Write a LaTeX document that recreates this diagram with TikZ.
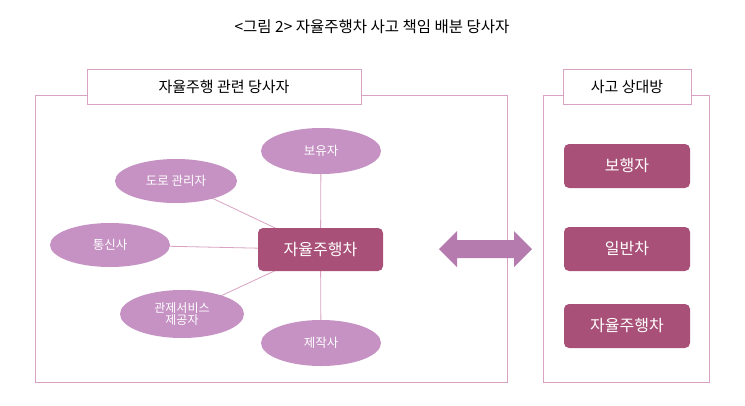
\documentclass[tikz,border=0pt]{standalone}
\usepackage{fontspec}
\setmainfont{Noto Sans CJK KR}
\usetikzlibrary{shapes.geometric}
\definecolor{pk}{HTML}{D8A2C2}
\definecolor{dark}{HTML}{A85077}
\definecolor{ell}{HTML}{C592C3}
\definecolor{arr}{HTML}{B57BAE}
\begin{document}
\begin{tikzpicture}[x=1pt,y=-1pt,
  panel/.style={draw=pk,line width=1pt},
  ptitle/.style={draw=pk,line width=1pt,fill=white,minimum height=35pt,font=\fontsize{15}{17}\selectfont,inner sep=0pt},
  dbox/.style={fill=dark,rounded corners=5pt,minimum width=126pt,minimum height=44pt,text=white,font=\fontsize{16}{18}\selectfont,inner sep=0pt},
  el/.style={ellipse,fill=ell,minimum width=120pt,minimum height=46pt,text=white,font=\fontsize{12.5}{14}\selectfont,inner sep=0pt,align=center},
  link/.style={draw=pk,line width=0.8pt}]
\useasboundingbox (0,0) rectangle (745,405);
\node (title) at (372,27) {\fontsize{15.5}{17}\selectfont <그림 2> 자율주행차 사고 책임 배분 당사자};
\draw[panel] (35,95) rectangle (507,382);
\draw[panel] (543,95) rectangle (709,382);
\node[ptitle,minimum width=274pt] (lt) at (224,87) {자율주행 관련 당사자};
\node[ptitle,minimum width=128pt] (rt) at (627,87) {사고 상대방};
\coordinate (cc) at (320.5,249.5);
\coordinate (e1c) at (321,151);
\coordinate (e2c) at (176,181);
\coordinate (e3c) at (110,245);
\coordinate (e4c) at (182,314);
\coordinate (e5c) at (321,343);
\draw[link] (e1c) -- (cc) (e2c) -- (cc) (e3c) -- (cc) (e4c) -- (cc) (e5c) -- (cc);
\node[dbox,minimum width=125pt,minimum height=43pt] (c) at (cc) {자율주행차};
\node[el] (e1) at (e1c) {보유자};
\node[el,minimum width=122pt,minimum height=44pt] (e2) at (e2c) {도로 관리자};
\node[el,minimum height=44pt] (e3) at (e3c) {통신사};
\node[el,minimum width=124pt,minimum height=48pt,font=\fontsize{12}{14}\selectfont] (e4) at (e4c) {관제서비스\\[-2pt]제공자};
\node[el] (e5) at (e5c) {제작사};
\node[dbox] (r1) at (627,166) {보행자};
\node[dbox] (r2) at (627,249) {일반차};
\node[dbox] (r3) at (627,326) {자율주행차};
\fill[arr] (439,249) -- (457,231) -- (457,240) -- (514,240) -- (514,231) -- (532,249) -- (514,267) -- (514,258) -- (457,258) -- (457,267) -- cycle;
\end{tikzpicture}
\end{document}
